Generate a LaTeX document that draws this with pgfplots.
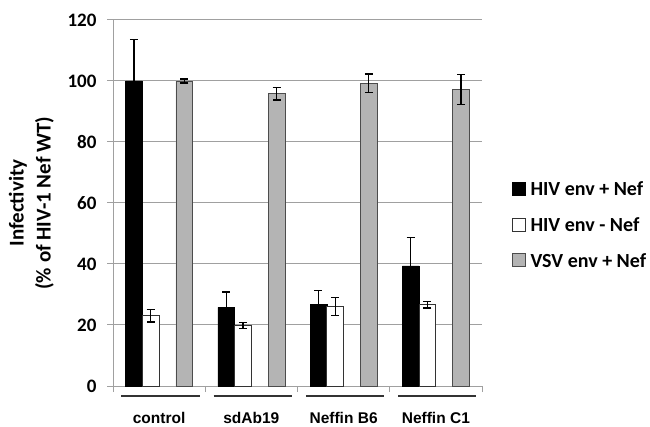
\documentclass[border=0pt]{standalone}
\usepackage{pgfplots}
\pgfplotsset{compat=1.18}
\usepackage{fontspec}
\setmainfont{Carlito}
\newfontfamily\arialfont{Liberation Sans}
\definecolor{bargray}{RGB}{180,180,180}
\definecolor{gridgray}{RGB}{160,160,160}

% x = category index + bar offset (categories 0..3)
\pgfplotstableread{
x y e
-0.273 100 13.5
0.727 25.8 5
1.727 26.7 4.5
2.727 39.4 9.4
}\blackdata
\pgfplotstableread{
x y e
-0.091 23 2
0.909 19.8 1
1.909 26 3
2.909 26.6 1
}\whitedata
\pgfplotstableread{
x y e
0.273 100 0.7
1.273 95.8 2
2.273 99.3 3
3.273 97.2 5
}\graydata

\begin{document}
\begin{tikzpicture}
\useasboundingbox (0,0) rectangle (650bp,427bp);
\begin{axis}[
 at={(113bp,41bp)}, anchor=south west,
 scale only axis, width=369bp, height=366bp,
 xmin=-0.5, xmax=3.5, ymin=0, ymax=120,
 axis lines*=left,
 axis line style={-, draw=gridgray, line width=1bp},
 ytick={0,20,...,120},
 xtick={-0.5,0.5,1.5,2.5,3.5},
 xticklabels={},
 tick align=outside,
 major tick length=6bp,
 tick style={draw=gridgray, line width=1bp},
 ymajorgrids,
 grid style={draw=gridgray, line width=1bp},
 /pgf/number format/assume math mode=true,
 yticklabel style={font=\fontsize{19bp}{21bp}\selectfont\bfseries, xshift=-7bp},
 extra x ticks={0,1,2,3},
 extra x tick labels={control,sdAb19,Neffin B6,Neffin C1},
 extra x tick style={major tick length=0pt, tick label style={font=\arialfont\bfseries\fontsize{15.5bp}{17bp}\selectfont, yshift=-23bp}},
 ylabel={Infectivity\\(\% of HIV-1 Nef WT)},
 ylabel style={font=\fontsize{21bp}{27bp}\selectfont\bfseries, align=center, at={(axis description cs:-0.221,0.5)}, anchor=center},
 legend style={at={(1.08,0.44)}, anchor=west, draw=none, fill=none,
   font=\fontsize{20bp}{22bp}\selectfont\bfseries, row sep=16.5bp, inner sep=0pt,
   /tikz/every odd column/.append style={column sep=3bp}},
 legend cell align=left,
 clip=false,
]
\pgfplotsset{sqleg/.style={legend image code/.code={\draw[##1] (0bp,-6bp) rectangle (13bp,7bp);}}}
\addplot[ybar, bar width=0.182, bar shift=0pt, fill=black, draw=black, sqleg,
  error bars/.cd, y dir=both, y explicit,
  error bar style={line width=1.3bp, black},
  error mark options={rotate=90, mark size=4bp, line width=1.3bp, black}]
  table[x=x, y=y, y error=e]{\blackdata};
\addlegendentry{HIV env + Nef}
\addplot[ybar, bar width=0.182, bar shift=0pt, fill=white, draw=black!80, line width=0.8bp, sqleg,
  error bars/.cd, y dir=both, y explicit,
  error bar style={line width=1.3bp, black},
  error mark options={rotate=90, mark size=4bp, line width=1.3bp, black}]
  table[x=x, y=y, y error=e]{\whitedata};
\addlegendentry{HIV env - Nef}
\addplot[ybar, bar width=0.182, bar shift=0pt, fill=bargray, draw=black!70, line width=0.8bp, sqleg,
  error bars/.cd, y dir=both, y explicit,
  error bar style={line width=1.3bp, black},
  error mark options={rotate=90, mark size=4bp, line width=1.3bp, black}]
  table[x=x, y=y, y error=e]{\graydata};
\addlegendentry{VSV env + Nef}
\draw[line width=2bp, black!80] ([yshift=-10bp]axis cs:-0.41,0) -- ([yshift=-10bp]axis cs:0.44,0);
\draw[line width=2bp, black!80] ([yshift=-10bp]axis cs:0.59,0) -- ([yshift=-10bp]axis cs:1.44,0);
\draw[line width=2bp, black!80] ([yshift=-10bp]axis cs:1.59,0) -- ([yshift=-10bp]axis cs:2.44,0);
\draw[line width=2bp, black!80] ([yshift=-10bp]axis cs:2.59,0) -- ([yshift=-10bp]axis cs:3.44,0);
\end{axis}
\end{tikzpicture}
\end{document}
